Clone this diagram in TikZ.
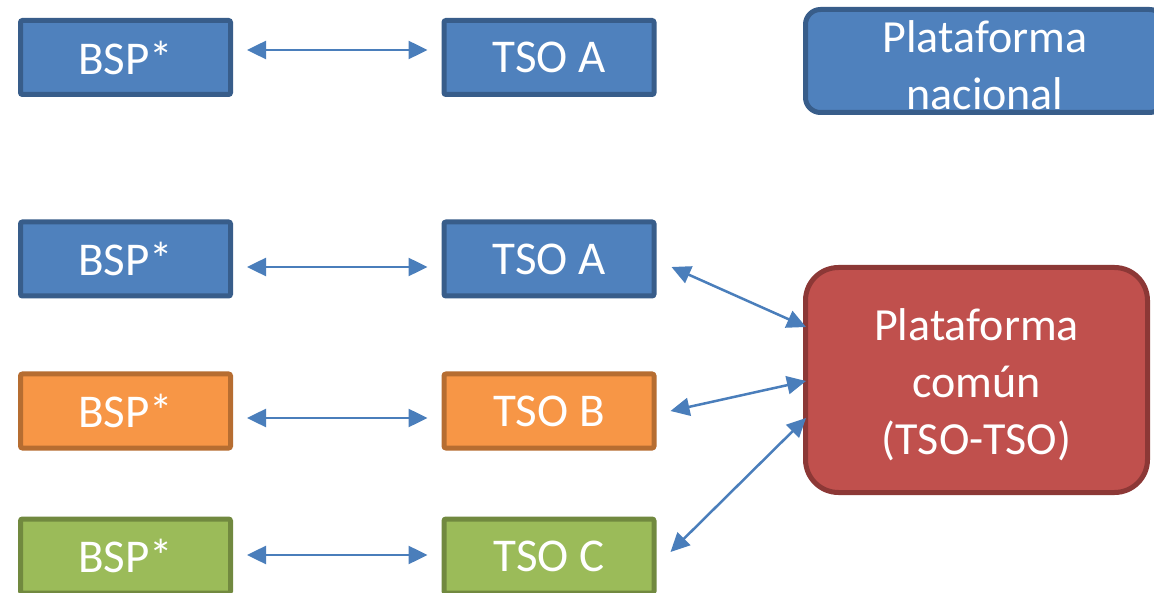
\documentclass[tikz,border=0pt]{standalone}
\usepackage{fontspec}
\setmainfont{Carlito}
\usetikzlibrary{arrows.meta}
\definecolor{bfill}{HTML}{4F81BD}
\definecolor{bdraw}{HTML}{385D8A}
\definecolor{ofill}{HTML}{F79646}
\definecolor{odraw}{HTML}{B66D31}
\definecolor{gfill}{HTML}{9BBB59}
\definecolor{gdraw}{HTML}{71893F}
\definecolor{rfill}{HTML}{C0504D}
\definecolor{rdraw}{HTML}{8C3836}
\definecolor{arrcol}{HTML}{4A7EBB}
\tikzset{
  box/.style={rectangle, rounded corners=2pt, line width=5pt, inner sep=0pt,
    minimum width=210pt, minimum height=74pt, text=white,
    font=\fontsize{47}{57}\selectfont},
  bluebox/.style={box, fill=bfill, draw=bdraw},
  orangebox/.style={box, fill=ofill, draw=odraw},
  greenbox/.style={box, fill=gfill, draw=gdraw},
  platform/.style={rectangle, line width=5pt, inner sep=0pt, text=white,
    align=center, font=\fontsize{46}{57}\selectfont},
  arr/.style={draw=arrcol, line width=2.5pt,
    {Triangle[length=19pt,width=18pt]}-{Triangle[length=19pt,width=18pt]}},
  harr/.style={arr, shorten <=14pt, shorten >=14pt}
}
\begin{document}
\begin{tikzpicture}[x=1pt,y=-1pt]
\useasboundingbox (0,0) rectangle (1154,593);
\clip (0,0) rectangle (1154,593);
\fill[white] (0,0) rectangle (1154,593);

% row 1
\node[bluebox] (bsp1) at (125.5,57.5) {BSP*};
\node[bluebox] (tso1) at (549,57.5) {TSO A};
\node[platform, fill=bfill, draw=bdraw, rounded corners=15pt,
  minimum width=359pt, minimum height=103pt] (nac) at (985,61)
  {\rule{0pt}{40pt}Plataforma\\nacional};

% row 2
\node[bluebox] (bsp2) at (125.5,259) {BSP*};
\node[bluebox] (tso2) at (549,259) {TSO A};
% row 3
\node[orangebox] (bsp3) at (125.5,411) {BSP*};
\node[orangebox] (tso3) at (549,411) {TSO B};
% row 4
\node[greenbox] (bsp4) at (125.5,556) {BSP*};
\node[greenbox] (tso4) at (549,556) {TSO C};

\node[platform, fill=rfill, draw=rdraw, rounded corners=33pt,
  minimum width=342pt, minimum height=225pt] (comun) at (976.5,380)
  {\rule{0pt}{42pt}Plataforma\\común\\(TSO-TSO)};

% horizontal arrows
\draw[harr] ([yshift=7.5pt]bsp1.east) -- ([yshift=7.5pt]tso1.west);
\draw[harr] ([yshift=-8pt]bsp2.east) -- ([yshift=-8pt]tso2.west);
\draw[harr] ([yshift=-7pt]bsp3.east) -- ([yshift=-7pt]tso3.west);
\draw[harr] ([yshift=1pt]bsp4.east) -- ([yshift=1pt]tso4.west);

% diagonal arrows
\draw[arr] ([xshift=15pt,yshift=-8pt]tso2.east) -- ([xshift=3pt,yshift=53pt]comun.west);
\draw[arr] ([xshift=14pt]tso3.east) -- ([xshift=3pt,yshift=-1pt]comun.west);
\draw[arr] ([xshift=14pt,yshift=4pt]tso4.east) -- ([xshift=3pt,yshift=-38pt]comun.west);
\end{tikzpicture}
\end{document}
